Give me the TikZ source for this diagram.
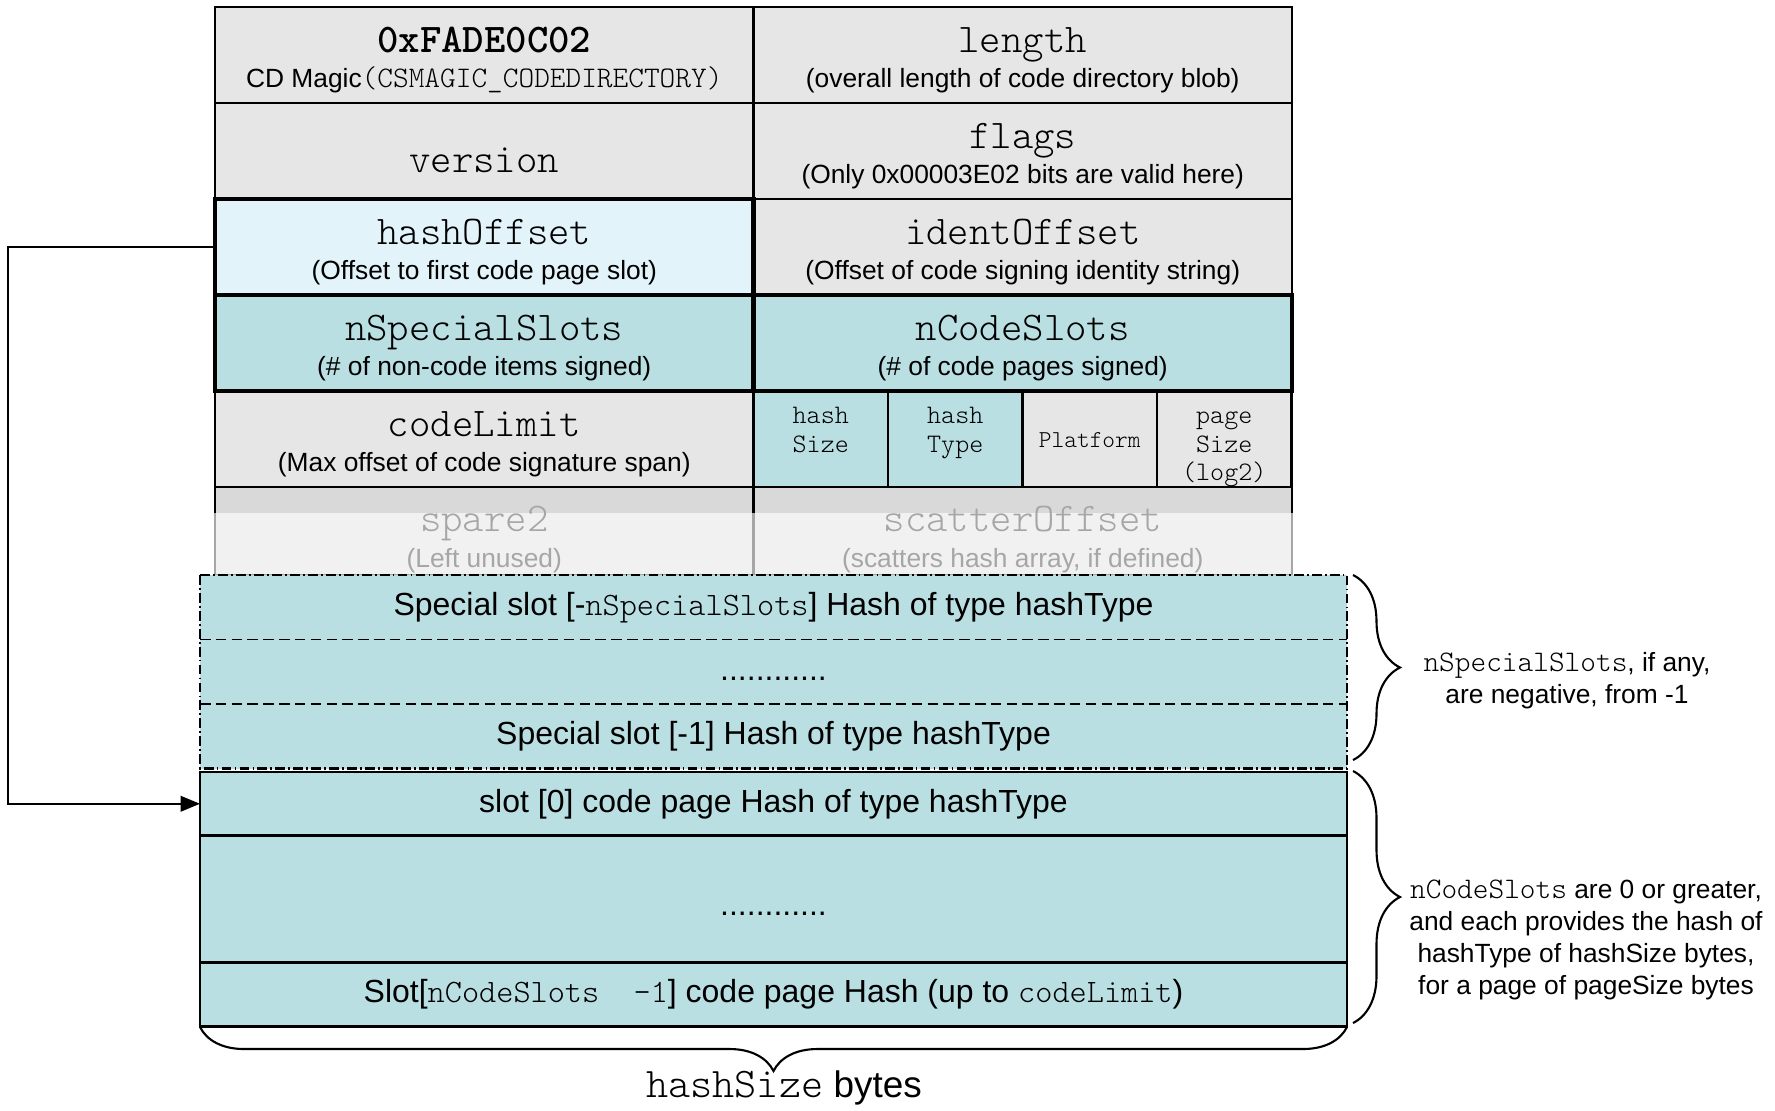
\documentclass[tikz,border=0pt]{standalone}
\usepackage{fontspec}
\setmainfont{Liberation Sans}
\newfontfamily\codefont{lmmonolt10-regular}[Extension=.otf, BoldFont=lmmonolt10-bold]
\usetikzlibrary{arrows.meta,decorations.pathreplacing}

\definecolor{cellgray}{HTML}{E6E6E6}
\definecolor{sparegray}{HTML}{D9D9D9}
\definecolor{offsetblue}{HTML}{E2F3FA}
\definecolor{slotteal}{HTML}{B9DFE3}

\newcommand{\fieldname}[1]{{\codefont\fontsize{11.6}{12}\selectfont #1}}
\newcommand{\codeword}[1]{{\codefont\fontsize{8.5}{9}\selectfont #1}}
\newcommand{\slotword}[1]{{\codefont\fontsize{9.3}{11}\selectfont #1}}

\begin{document}
\begin{tikzpicture}[
    cell/.style={draw, line width=0.6pt, fill=cellgray, anchor=north west, inner sep=0pt, outer sep=0pt,
      minimum width=5.385cm, minimum height=0.96cm, align=center, font=\fontsize{7.5}{10.1}\selectfont,
      text height=18.6pt, text depth=0pt},
    boldcell/.style={cell, line width=1.3pt},
    smallcell/.style={cell, minimum width=1.345cm, font=\codefont\fontsize{7.6}{8.1}\selectfont,
      text height=23.6pt},
    faded/.style={align=center, text=gray!70, font=\fontsize{7.5}{10.1}\selectfont,
      text height=20.5pt, text depth=0pt},
    slot/.style={fill=slotteal, anchor=north west, inner sep=0pt, outer sep=0pt,
      minimum width=11.47cm, font=\fontsize{9.1}{11}\selectfont},
    codeslot/.style={slot, draw, line width=0.6pt},
    slotsep/.style={line width=0.5pt, dash pattern=on 3pt off 1.5pt},
    slotbox/.style={line width=0.6pt, dash pattern=on 2.8pt off 0.9pt on 0.5pt off 0.9pt},
    sizebrace/.style={decorate, decoration={brace, amplitude=#1}, line width=0.6pt},
    note/.style={align=center, font=\fontsize{7.5}{9.1}\selectfont},
    pointer/.style={-{Triangle[length=5.5pt, width=4.4pt]}, line width=0.6pt}
  ]

  \useasboundingbox (0,0) rectangle (17.75,-11.10);

  \node[cell] (magic)   at (2.15,-0.07)  {\fieldname{\bfseries 0xFADE0C02}\\CD Magic\codeword{(CSMAGIC\_CODEDIRECTORY)}};
  \node[cell] (length)  at (7.535,-0.07) {\fieldname{length}\\(overall length of code directory blob)};
  \node[cell, text height=12.5pt] (version) at (2.15,-1.03)  {\fieldname{version}};
  \node[cell] (flags)   at (7.535,-1.03) {\fieldname{flags}\\(Only 0x00003E02 bits are valid here)};
  \node[cell] (identoff) at (7.535,-1.99) {\fieldname{identOffset}\\(Offset of code signing identity string)};
  \node[cell] (codelimit) at (2.15,-3.91) {\fieldname{codeLimit}\\(Max offset of code signature span)};

  \node[smallcell, fill=slotteal] (hashsize) at (7.535,-3.91) {hash\\Size\\\mbox{}};
  \node[smallcell, fill=slotteal] (hashtype) at (8.88,-3.91)  {hash\\Type\\\mbox{}};
  \node[smallcell, font=\codefont\fontsize{6.9}{8.1}\selectfont, text height=4.7pt] (platform) at (10.225,-3.91) {Platform};
  \node[smallcell] (pagesize) at (11.57,-3.91) {page\\Size\\(log2)};

  \node[cell, fill=sparegray, minimum height=0.88cm] (spare)   at (2.15,-4.87)  {};
  \node[cell, fill=sparegray, minimum height=0.88cm] (scatter) at (7.535,-4.87) {};

  \node[boldcell, fill=offsetblue] (hashoff) at (2.15,-1.99) {\fieldname{hashOffset}\\(Offset to first code page slot)};
  \node[boldcell, fill=slotteal] (nspecial) at (2.15,-2.95)  {\fieldname{nSpecialSlots}\\(\# of non-code items signed)};
  \node[boldcell, fill=slotteal] (ncode)    at (7.535,-2.95) {\fieldname{nCodeSlots}\\(\# of code pages signed)};

  \fill[white, opacity=0.65] (2.11,-5.13) rectangle (12.96,-5.76);
  \node[faded] (sparetxt)   at (spare.center)   {\fieldname{spare2}\\(Left unused)};
  \node[faded] (scattertxt) at (scatter.center) {\fieldname{scatterOffset}\\(scatters hash array, if defined)};

  \node[slot, minimum height=0.645cm] (special1) at (2.00,-5.75)  {Special slot [-\slotword{nSpecialSlots}] Hash of type hashType};
  \node[slot, minimum height=0.645cm] (special2) at (2.00,-6.395) {\smash{\raisebox{-2.6pt}{............}}};
  \node[slot, minimum height=0.645cm] (special3) at (2.00,-7.04)  {Special slot [-1] Hash of type hashType};
  \draw[slotsep] (special1.south west) -- (special1.south east);
  \draw[slotsep] (special2.south west) -- (special2.south east);
  \draw[slotbox] (special1.north west) rectangle (special3.south east);

  \node[codeslot, minimum height=0.635cm] (slot0)    at (2.00,-7.72)  {slot [0] code page Hash of type hashType};
  \node[codeslot, minimum height=1.27cm]  (slotdots) at (2.00,-8.355) {\smash{\raisebox{-4.6pt}{............}}};
  \node[codeslot, minimum height=0.64cm]  (slotlast) at (2.00,-9.625) {Slot[\slotword{nCodeSlots\ \ -1}] code page Hash (up to \slotword{codeLimit})};

  \draw[pointer] (hashoff.west) -- ++(-2.07,0) |- (slot0.west);

  \draw[sizebrace=0.47cm] (13.53,-5.75) -- (13.53,-7.60);
  \draw[sizebrace=0.47cm] (13.53,-7.71) -- (13.53,-10.23);
  \draw[sizebrace=0.44cm] (13.47,-10.27) -- (2.00,-10.27);

  \node[note] (specialnote) at (15.67,-6.81) {\codeword{nSpecialSlots}, if any,\\are negative, from -1};
  \node[note] (codenote) at (15.86,-9.40) {\codeword{nCodeSlots} are 0 or greater,\\and each provides the hash of\\hashType of hashSize bytes,\\for a page of pageSize bytes};
  \node[font=\fontsize{10.5}{12}\selectfont] (bytes) at (7.84,-10.88) {{\codefont\fontsize{12}{13}\selectfont hashSize} bytes};
\end{tikzpicture}
\end{document}
